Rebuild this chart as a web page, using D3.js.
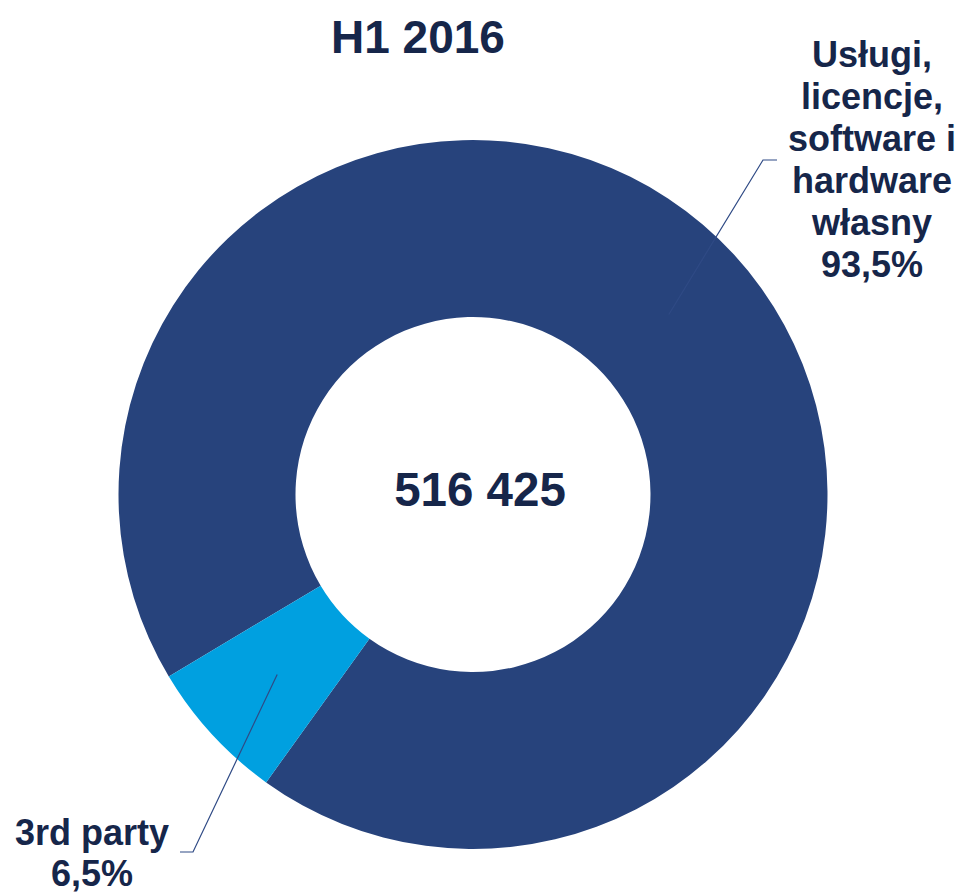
<!DOCTYPE html>
<html>
<head>
<meta charset="utf-8">
<script src="https://cdn.jsdelivr.net/npm/d3@7"></script>
<style>
  html, body { margin: 0; padding: 0; background: #fff; }
  svg text { font-family: "Liberation Sans", Arial, sans-serif; font-weight: bold; fill: #16264a; }
</style>
</head>
<body>
<svg></svg>
<script>
var title = 'H1 2016';
var total = '516 425';
var categories = ['Usługi, licencje, software i hardware własny', '3rd party'];
var shares = [93.5, 6.5];
var shareLabels = ['93,5%', '6,5%'];
var labelLines = [
  ['Usługi,', 'licencje,', 'software i', 'hardware', 'własny'],
  ['3rd party']
];
var colors = ['#27437c', '#00a0e0'];

var W = 967, H = 893;
var cx = 473, cy = 494.5;
var outerR = 354.5, innerR = 177.5;
var startDeg = 239.1;

// where each leader bends and where its label sits
var labelLayout = [
  {elbow: [763, 160], tail: [777, 160], x: 872, y: 67, lh: 42},
  {elbow: [193, 852], tail: [180, 852], x: 92, y: 845, lh: 41}
];

var $svg = d3.select('svg').attr('width', W).attr('height', H);

var pie = d3.pie().sort(null)
  .startAngle(startDeg * Math.PI / 180)
  .endAngle(startDeg * Math.PI / 180 + 2 * Math.PI);
var arc = d3.arc().innerRadius(innerR).outerRadius(outerR);

var arcs = pie(shares);

var g = $svg.append('g').attr('transform', 'translate(' + cx + ',' + cy + ')');
g.selectAll('path').data(arcs).enter().append('path')
  .attr('d', arc)
  .attr('fill', function(d, i) { return colors[i]; });

// leader lines: centroid -> elbow -> short tail
$svg.selectAll('polyline.leader').data(arcs).enter().append('polyline')
  .attr('class', 'leader')
  .attr('fill', 'none')
  .attr('stroke', '#2f4a85')
  .attr('stroke-width', 1.2)
  .attr('points', function(d, i) {
    var c = arc.centroid(d);
    var L = labelLayout[i];
    return [[c[0] + cx, c[1] + cy], L.elbow, L.tail].map(function(p) { return p.join(','); }).join(' ');
  });

// labels
$svg.selectAll('text.lbl').data(arcs).enter().append('text')
  .attr('class', 'lbl')
  .attr('text-anchor', 'middle')
  .style('font-size', '36px')
  .each(function(d, i) {
    var L = labelLayout[i];
    var lines = labelLines[i].concat([shareLabels[i]]);
    d3.select(this).selectAll('tspan').data(lines).enter().append('tspan')
      .attr('x', L.x)
      .attr('y', function(s, j) { return L.y + j * L.lh; })
      .text(function(s) { return s; });
  });

$svg.append('text')
  .attr('x', 418).attr('y', 53)
  .attr('text-anchor', 'middle')
  .style('font-size', '46px')
  .text(title);

$svg.append('text')
  .attr('x', 480).attr('y', 506)
  .attr('text-anchor', 'middle')
  .style('font-size', '47.5px')
  .text(total);
</script>
</body>
</html>
